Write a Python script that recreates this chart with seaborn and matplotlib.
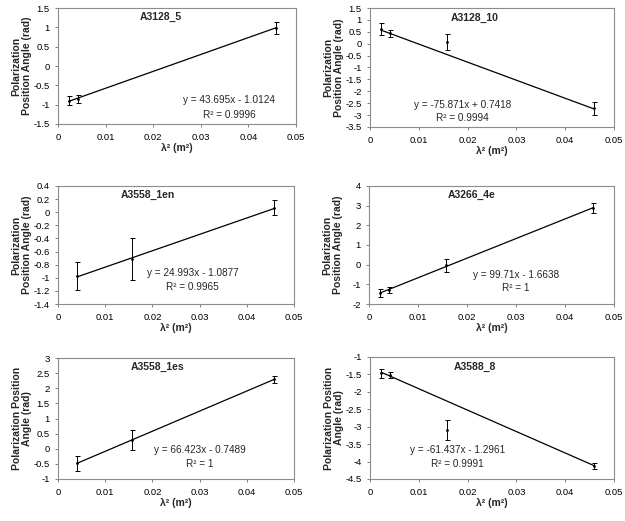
import numpy as np
import pandas as pd
import seaborn as sns
import matplotlib.pyplot as plt
from matplotlib.ticker import FuncFormatter, MultipleLocator

# lambda^2 values (m^2) for the bands
lam2_a = [0.0023, 0.0041, 0.0458]
lam2_b = [0.0023, 0.0041, 0.0157, 0.0458]
lam2_c = [0.0041, 0.0157, 0.0458]

# panel names
names = ['A3128_5', 'A3128_10', 'A3558_1en', 'A3266_4e', 'A3558_1es', 'A3588_8']

# polarization angle (rad) and errors
angle_3128_5 = [-0.90, -0.85, 0.99]
err_3128_5 = [0.12, 0.11, 0.15]
angle_3128_10 = [0.61, 0.43, 0.07, -2.72]
err_3128_10 = [0.26, 0.13, 0.33, 0.26]
angle_3558_1en = [-0.97, -0.72, 0.07]
err_3558_1en = [0.21, 0.32, 0.11]
angle_3266_4e = [-1.45, -1.28, -0.03, 2.89]
err_3266_4e = [0.19, 0.15, 0.33, 0.24]
angle_3558_1es = [-0.48, 0.29, 2.30]
err_3558_1es = [0.24, 0.32, 0.11]
angle_3588_8 = [-1.47, -1.52, -3.10, -4.12]
err_3588_8 = [0.12, 0.09, 0.29, 0.08]

# trendline coefficients shown on the chart
slopes = [43.695, -75.871, 24.993, 99.71, 66.423, -61.437]
intercepts = [-1.0124, 0.7418, -1.0877, -1.6638, -0.7489, -1.2961]
eq_text = ['y = 43.695x - 1.0124', 'y = -75.871x + 0.7418', 'y = 24.993x - 1.0877',
           'y = 99.71x - 1.6638', 'y = 66.423x - 0.7489', 'y = -61.437x - 1.2961']
r2_text = ['R² = 0.9996', 'R² = 0.9994', 'R² = 0.9965', 'R² = 1', 'R² = 1', 'R² = 0.9991']

# y axis ranges / steps
y_lims = [(-1.5, 1.5), (-3.5, 1.5), (-1.4, 0.4), (-2, 4), (-1, 3), (-4.5, -1)]
y_steps = [0.5, 0.5, 0.2, 1, 0.5, 0.5]

xs = [lam2_a, lam2_b, lam2_c, lam2_b, lam2_c, lam2_b]
ys = [angle_3128_5, angle_3128_10, angle_3558_1en, angle_3266_4e, angle_3558_1es, angle_3588_8]
errs = [err_3128_5, err_3128_10, err_3558_1en, err_3266_4e, err_3558_1es, err_3588_8]

ylabels = ['Polarization\nPosition Angle (rad)'] * 4 + ['Polarization Position\nAngle (rad)'] * 2

# axes boxes in pixels: left, top, right, bottom
boxes = [(58, 8, 296, 124), (370, 8, 614, 127),
         (58, 186, 294, 304), (369, 186, 614, 304),
         (58, 358, 294, 479), (370, 357, 614, 479)]
title_pos = [(0.43, 0.92), (0.43, 0.92), (0.38, 0.92), (0.42, 0.92), (0.42, 0.93), (0.43, 0.92)]
eq_pos = [(0.72, 0.21, 0.08), (0.38, 0.185, 0.075), (0.57, 0.26, 0.145),
          (0.60, 0.245, 0.135), (0.60, 0.24, 0.125), (0.36, 0.24, 0.12)]

sns.set_theme(style='white')
plt.rcParams['font.family'] = ['Liberation Sans', 'DejaVu Sans']
plt.rcParams['axes.unicode_minus'] = False

W, H = 625, 521
fig = plt.figure(figsize=(W / 100, H / 100), dpi=100)

fmt = FuncFormatter(lambda v, p: f'{round(v, 6):g}')

for i in range(6):
    l, t, r, b = boxes[i]
    ax = fig.add_axes([l / W, 1 - b / H, (r - l) / W, (b - t) / H])
    df = pd.DataFrame({'x': xs[i], 'y': ys[i], 'e': errs[i]})

    ax.errorbar(df['x'], df['y'], yerr=df['e'], fmt='none', ecolor='black',
                elinewidth=0.7, capsize=1.8, capthick=0.7, zorder=2)
    sns.scatterplot(data=df, x='x', y='y', ax=ax, color='black', s=4,
                    edgecolor='black', linewidth=0, zorder=3)

    fx = np.array([min(xs[i]), max(xs[i])])
    fit = pd.DataFrame({'x': fx, 'y': slopes[i] * fx + intercepts[i]})
    sns.lineplot(data=fit, x='x', y='y', ax=ax, color='black', linewidth=0.9, zorder=2)

    ax.set_xlim(0, 0.05)
    ax.set_ylim(*y_lims[i])
    ax.xaxis.set_major_locator(MultipleLocator(0.01))
    ax.yaxis.set_major_locator(MultipleLocator(y_steps[i]))
    ax.xaxis.set_major_formatter(fmt)
    ax.yaxis.set_major_formatter(fmt)
    ax.tick_params(axis='both', labelsize=6.8, colors='#808080', labelcolor='black',
                   direction='out', length=2.5, width=0.7, bottom=True, left=True)
    ax.tick_params(axis='y', pad=3.5)
    ax.tick_params(axis='x', pad=4)

    for sp in ax.spines.values():
        sp.set_color('#8c8c8c')
        sp.set_linewidth(0.8)

    ax.set_xlabel('λ² (m²)', fontsize=7.5, fontweight='bold', labelpad=1)
    ax.set_ylabel(ylabels[i], fontsize=7.5, fontweight='bold', linespacing=1.05)
    ax.yaxis.set_label_coords(-26 / (r - l), 0.5)

    tx, ty = title_pos[i]
    ax.text(tx, ty, names[i], transform=ax.transAxes, ha='center', va='center',
            fontsize=7.5, fontweight='bold')
    ex, ey1, ey2 = eq_pos[i]
    ax.text(ex, ey1, eq_text[i], transform=ax.transAxes, ha='center', va='center', fontsize=7.2)
    ax.text(ex, ey2, r2_text[i], transform=ax.transAxes, ha='center', va='center', fontsize=7.2)

fig.savefig('out.png', dpi=100, facecolor='white')
